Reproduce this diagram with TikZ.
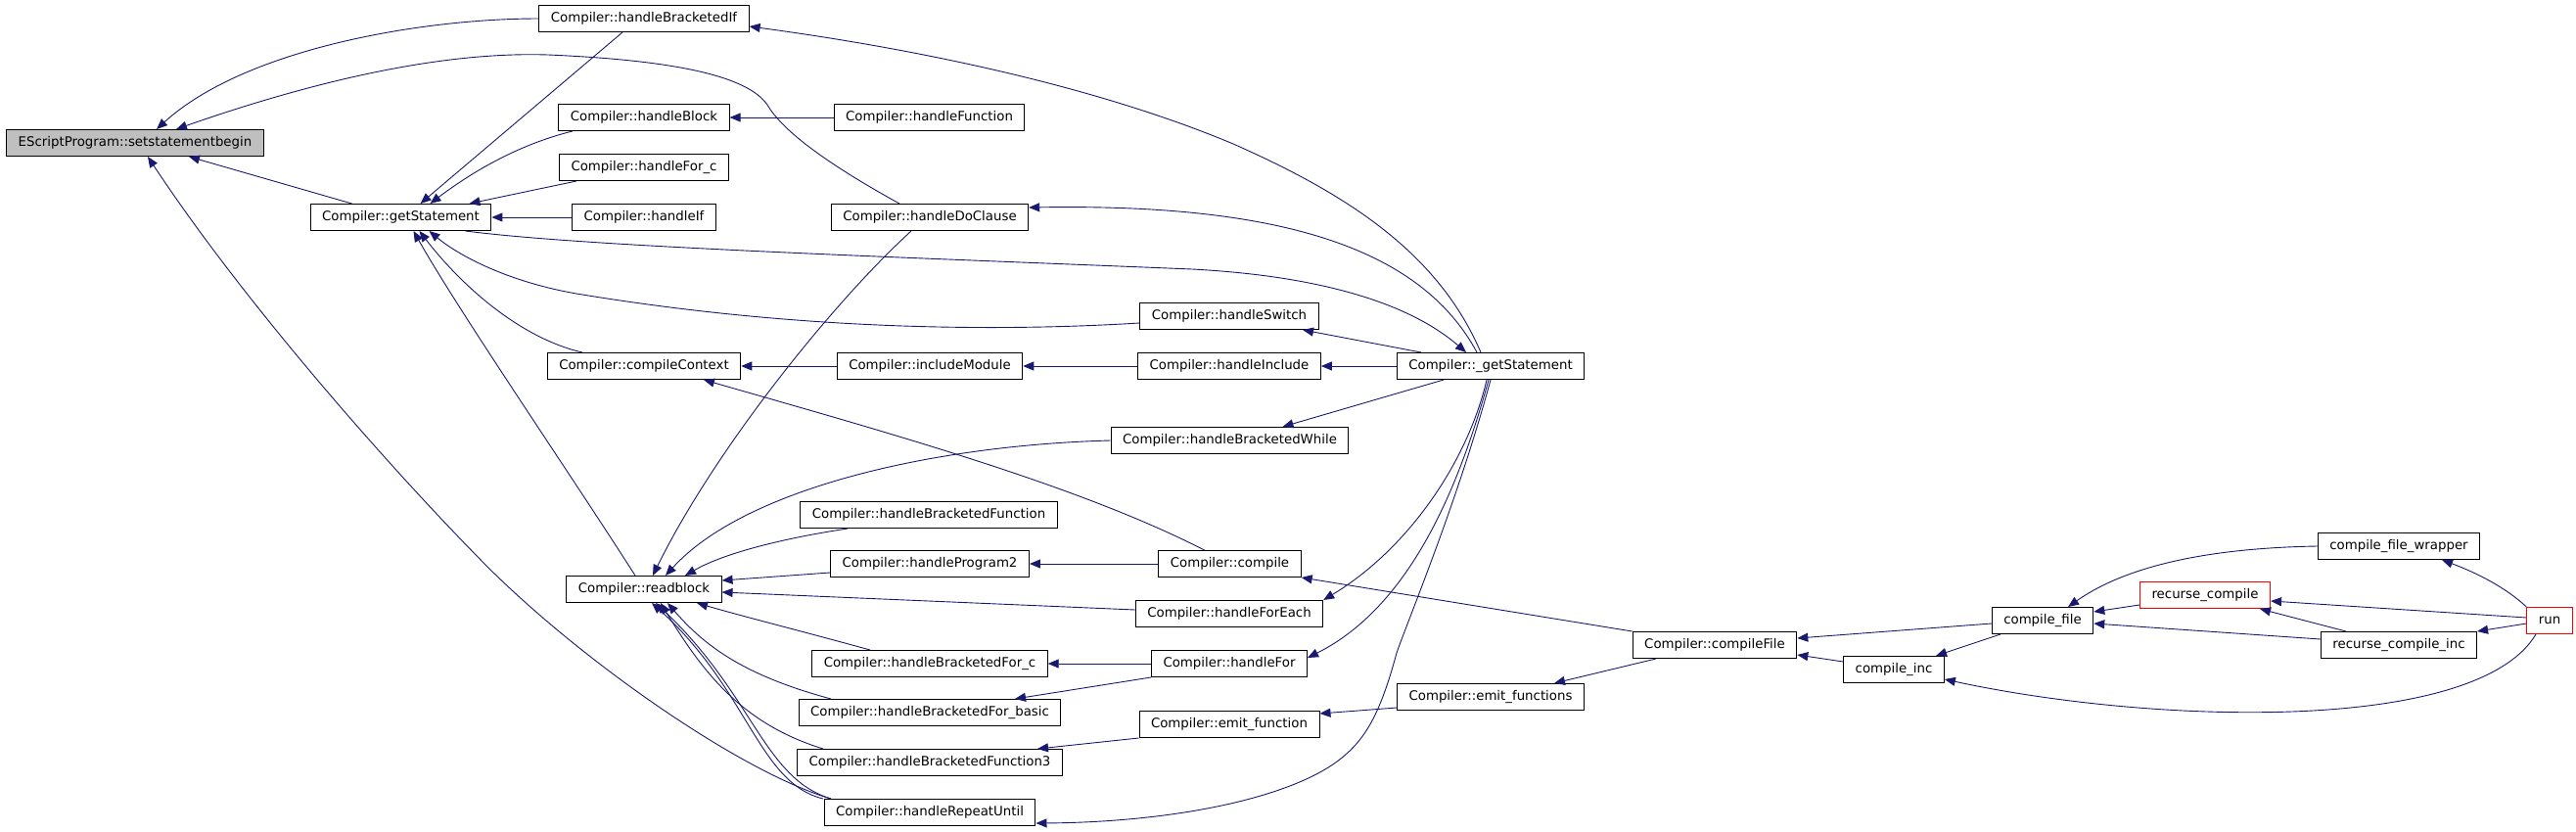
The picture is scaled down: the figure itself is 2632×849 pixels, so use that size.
\documentclass[tikz,border=0pt]{standalone}
\usepackage{fontspec}
\setmainfont{DejaVu Sans}
\usetikzlibrary{arrows.meta}
\definecolor{edgeblue}{HTML}{191970}

\begin{document}
\begin{tikzpicture}
[x=1pt, y=-1pt,
func/.style={draw=black, line width=1pt, fill=white, inner xsep=12pt, inner ysep=0pt, minimum height=27pt, font=\fontsize{13.33}{16}\selectfont},
root func/.style={func, fill=black!25},
red func/.style={func, draw=red},
call/.style={draw=edgeblue, line width=0.9pt, -{Triangle[length=11pt, width=9pt]}}]
\useasboundingbox (0,0) rectangle (2632,849);

\node[root func] (ssb) at (138,146) {EScriptProgram::setstatementbegin};
\node[func] (gs) at (409.5,222) {Compiler::getStatement};
\node[func] (hbif) at (658,19) {Compiler::handleBracketedIf};
\node[func] (hblock) at (658,120) {Compiler::handleBlock};
\node[func] (hforc) at (658,171) {Compiler::handleFor\_c};
\node[func] (hif) at (658,222) {Compiler::handleIf};
\node[func] (hfunc) at (949.5,120) {Compiler::handleFunction};
\node[func] (hdo) at (950,222) {Compiler::handleDoClause};
\node[func] (hsw) at (1256,323) {Compiler::handleSwitch};
\node[func] (hinc) at (1256,374) {Compiler::handleInclude};
\node[func] (ugs) at (1523,374) {Compiler::\_getStatement};
\node[func] (cctx) at (658,374) {Compiler::compileContext};
\node[func] (incmod) at (950,374) {Compiler::includeModule};
\node[func] (hbwhile) at (1256.5,450) {Compiler::handleBracketedWhile};
\node[func] (hbfunc) at (949,526) {Compiler::handleBracketedFunction};
\node[func] (hprog) at (950,576) {Compiler::handleProgram2};
\node[func] (comp) at (1256.5,576) {Compiler::compile};
\node[func] (rblock) at (658,602) {Compiler::readblock};
\node[func] (hforeach) at (1256,627) {Compiler::handleForEach};
\node[func] (hbforc) at (950,678) {Compiler::handleBracketedFor\_c};
\node[func] (hfor) at (1256,678) {Compiler::handleFor};
\node[func] (hbforb) at (950,728) {Compiler::handleBracketedFor\_basic};
\node[func] (emitfs) at (1523,712) {Compiler::emit\_functions};
\node[func] (emitf) at (1256,740) {Compiler::emit\_function};
\node[func] (hbf3) at (950,779) {Compiler::handleBracketedFunction3};
\node[func] (hrep) at (950,830) {Compiler::handleRepeatUntil};
\node[func] (cfilec) at (1752,659) {Compiler::compileFile};
\node[func] (cinc) at (1935,684) {compile\_inc};
\node[func] (cfile) at (2087,634) {compile\_file};
\node[red func] (rc) at (2253,608) {recurse\_compile};
\node[func] (cfw) at (2451,558) {compile\_file\_wrapper};
\node[func] (rci) at (2451,659) {recurse\_compile\_inc};
\node[red func] (run) at (2605,634) {run};

\draw[call] (hbif.west) .. controls (430,19) and (250,50) .. ([xshift=22pt]ssb.north);
\draw[call] ([xshift=-31pt]hdo.north) .. controls (850,170) and (800,135) .. (784,107)
  .. controls (765,80) and (700,62) .. (560,56) .. controls (440,52) and (300,90) .. ([xshift=42pt]ssb.north);
\draw[call] ([xshift=-50pt]gs.north) -- ([xshift=55pt]ssb.south);
\draw[call] ([xshift=-101pt]hrep.north) .. controls (760,790) and (600,680) .. (499,580)
  .. controls (400,480) and (250,310) .. ([xshift=13pt]ssb.south);

\draw[call] ([xshift=-22pt]hbif.south) -- ([xshift=20pt]gs.north);
\draw[call] ([xshift=-73pt]hblock.south) .. controls (520,150) and (470,185) .. ([xshift=30pt]gs.north);
\draw[call] ([xshift=-69pt]hforc.south) -- ([xshift=70pt]gs.north);
\draw[call] (hif) -- (gs);
\draw[call] ([yshift=-7pt]hsw.west) .. controls (1000,340) and (800,335) .. (589,300)
  .. controls (520,288) and (470,262) .. ([xshift=29pt]gs.south);
\draw[call] ([xshift=-63pt]cctx.north) .. controls (530,345) and (470,290) .. ([xshift=19pt]gs.south);
\draw[call] ([xshift=-9pt]rblock.north) .. controls (580,480) and (470,320) .. ([xshift=13pt]gs.south);
\draw[call] ([xshift=66pt]gs.south) .. controls (600,252) and (900,262) .. (1218,275)
  .. controls (1350,282) and (1440,310) .. ([xshift=-25pt]ugs.north);

\draw[call] (hfunc) -- (hblock);
\draw[call] ([xshift=-10pt]ugs.north) .. controls (1470,260) and (1380,200) .. (1260,147)
  .. controls (1100,80) and (900,45) .. ([yshift=-8pt]hbif.east);
\draw[call] ([xshift=-14pt]ugs.north) .. controls (1450,250) and (1300,208) .. ([yshift=10pt]hdo.east);
\draw[call] ([xshift=-71pt]ugs.north) -- ([xshift=75pt]hsw.south);
\draw[call] (ugs) -- (hinc);
\draw[call] (hinc) -- (incmod);
\draw[call] (incmod) -- (cctx);
\draw[call] ([xshift=-48pt]ugs.south) -- ([xshift=54pt]hbwhile.north);
\draw[call] ([xshift=-4pt]ugs.south) .. controls (1500,470) and (1440,560) .. (hforeach.north east);
\draw[call] ([xshift=-2pt]ugs.south) .. controls (1490,500) and (1440,620) .. ([yshift=6pt]hfor.east);
\draw[call] (ugs.south) .. controls (1490,510) and (1440,630) .. (1427,667)
  .. controls (1410,730) and (1395,755) .. (1370,775)
  .. controls (1320,815) and (1200,840) .. ([yshift=-11pt]hrep.east);

\draw[call] (hbwhile.west) .. controls (950,455) and (760,500) .. ([xshift=22pt]rblock.north);
\draw[call] ([xshift=-83pt]hbfunc.south) .. controls (800,550) and (740,565) .. ([xshift=42pt]rblock.north);
\draw[call] ([xshift=-19pt]hdo.south) .. controls (850,310) and (730,460) .. ([xshift=9pt]rblock.north);
\draw[call] ([yshift=-9pt]hprog.west) -- ([yshift=9pt]rblock.east);
\draw[call] ([yshift=4pt]hforeach.west) -- ([yshift=-3pt]rblock.east);
\draw[call] ([xshift=-61pt]hbforc.north) .. controls (820,645) and (760,630) .. ([xshift=54pt]rblock.south);
\draw[call] ([xshift=-101pt]hbforb.north) .. controls (760,690) and (720,660) .. ([xshift=24pt]rblock.south);
\draw[call] ([xshift=-109pt]hbf3.north) .. controls (760,740) and (720,690) .. ([xshift=17pt]rblock.south);
\draw[call] ([xshift=-101pt]hrep.north) .. controls (780,795) and (770,710) .. ([xshift=12pt]rblock.south);
\draw[call] ([xshift=-109pt]hrep.north) .. controls (775,800) and (765,705) .. ([xshift=8pt]rblock.south);

\draw[call] (comp) -- (hprog);
\draw[call] ([xshift=-26pt]comp.north) .. controls (1100,495) and (900,440) .. ([xshift=61pt]cctx.south);
\draw[call] (cfilec.north west) -- (comp.south east);
\draw[call] (hfor) -- (hbforc);
\draw[call] (hfor.south west) -- ([xshift=87pt]hbforb.north);
\draw[call] (emitf.south west) -- ([xshift=110pt]hbf3.north);
\draw[call] ([yshift=-11pt]emitfs.west) -- ([yshift=11pt]emitf.east);
\draw[call] ([xshift=-60pt]cfilec.south) -- ([xshift=65pt]emitfs.north);

\draw[call] ([yshift=-3pt]cfile.west) -- ([yshift=7pt]cfilec.east);
\draw[call] ([yshift=8pt]cinc.west) -- ([yshift=-10pt]cfilec.east);
\draw[call] ([xshift=-43pt]cfile.south) -- ([xshift=43pt]cinc.north);
\draw[call] ([xshift=-14pt]run.south) .. controls (2530,750) and (2200,740) .. ([yshift=-10pt]cinc.east);
\draw[call] (cfw.west) .. controls (2250,560) and (2170,580) .. ([xshift=26pt]cfile.north);
\draw[call] ([yshift=-10pt]rc.west) -- ([yshift=9pt]cfile.east);
\draw[call] ([yshift=6pt]rci.west) -- ([yshift=-3pt]cfile.east);
\draw[call] ([yshift=3pt]run.west) -- ([yshift=-6pt]rc.east);
\draw[call] ([xshift=-54pt]rci.north) -- ([xshift=56pt]rc.south);
\draw[call] (run.north west) .. controls (2560,600) and (2530,585) .. ([xshift=44pt]cfw.south);
\draw[call] ([yshift=-3pt]run.west) -- (rci.north east);
\end{tikzpicture}
\end{document}
